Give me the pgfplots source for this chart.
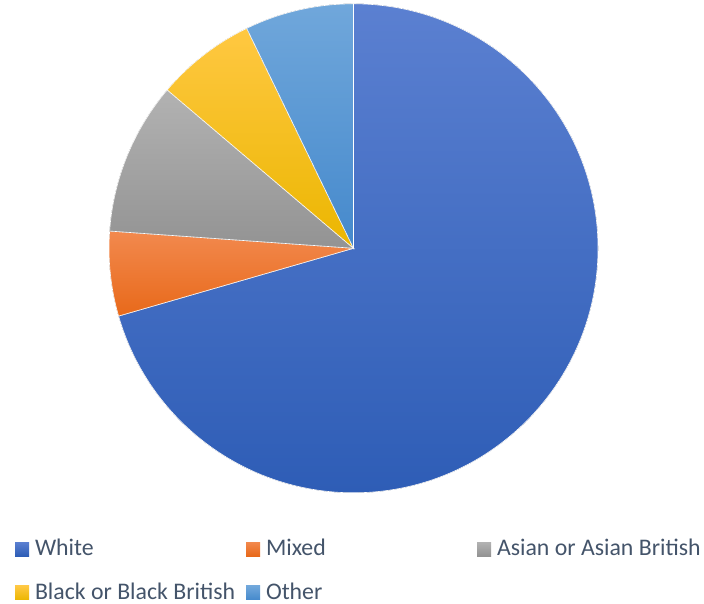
\documentclass[border=0pt]{standalone}
\usepackage{pgfplots}
\usepackage{pgfplotstable}
\pgfplotsset{compat=1.18}
\usepackage{fontspec}
\setmainfont{Carlito}
\definecolor{legtext}{HTML}{44546A}
\definecolor{cWt}{HTML}{5B80D1}\definecolor{cWb}{HTML}{2E5DB6}
\definecolor{cMt}{HTML}{F2894E}\definecolor{cMb}{HTML}{E8691A}
\definecolor{cAt}{HTML}{B2B2B2}\definecolor{cAb}{HTML}{939393}
\definecolor{cBt}{HTML}{FFC842}\definecolor{cBb}{HTML}{EBB600}
\definecolor{cOt}{HTML}{70A7DB}\definecolor{cOb}{HTML}{4589CC}

\pgfplotstableread{
label value
White 70.6
Mixed 5.6
Asian 10.1
Black 6.6
Other 7.2
}\piedata

\pgfplotstablegetelem{0}{value}\of\piedata\let\vA\pgfplotsretval
\pgfplotstablegetelem{1}{value}\of\piedata\let\vB\pgfplotsretval
\pgfplotstablegetelem{2}{value}\of\piedata\let\vC\pgfplotsretval
\pgfplotstablegetelem{3}{value}\of\piedata\let\vD\pgfplotsretval
\pgfplotstablegetelem{4}{value}\of\piedata\let\vE\pgfplotsretval
\pgfmathsetmacro\total{\vA+\vB+\vC+\vD+\vE}
\pgfmathsetmacro\aZ{90}
\pgfmathsetmacro\aA{\aZ-360*(\vA/\total)}
\pgfmathsetmacro\aB{\aA-360*(\vB/\total)}
\pgfmathsetmacro\aC{\aB-360*(\vC/\total)}
\pgfmathsetmacro\aD{\aC-360*(\vD/\total)}
\pgfmathsetmacro\aE{\aD-360*(\vE/\total)}
\def\R{122.25pt}
\newcommand\lt[1]{\makebox[105pt][l]{#1}}

\begin{document}
\begin{tikzpicture}
\begin{axis}[
  scale only axis, width=352pt, height=301.5pt,
  xmin=0, xmax=704, ymin=0, ymax=603,
  hide axis, clip=false,
  legend columns=3,
  legend image code/.code={\fill[#1, draw=none] (0pt,-3.5pt) rectangle (7pt,3.5pt);},
  legend style={at={(axis cs:15,603-537)}, anchor=north west, draw=none, fill=none,
    inner sep=0pt, outer sep=0pt,
    font=\fontsize{11.9pt}{14pt}\selectfont, text=legtext,
    nodes={inner sep=0pt, text height=9pt, text depth=3pt, anchor=west},
    /tikz/every odd column/.append style={column sep=3pt},
    /tikz/every even column/.append style={column sep=0.5pt},
    row sep=10pt},
]
\fill[top color=cWt, bottom color=cWb, draw=white, line width=0.3pt] (axis cs:353.5,354.7) -- ++(\aZ:\R) arc[start angle=\aZ, end angle=\aA, radius=\R] -- cycle;
\fill[top color=cMt, bottom color=cMb, draw=white, line width=0.3pt] (axis cs:353.5,354.7) -- ++(\aA:\R) arc[start angle=\aA, end angle=\aB, radius=\R] -- cycle;
\fill[top color=cAt, bottom color=cAb, draw=white, line width=0.3pt] (axis cs:353.5,354.7) -- ++(\aB:\R) arc[start angle=\aB, end angle=\aC, radius=\R] -- cycle;
\fill[top color=cBt, bottom color=cBb, draw=white, line width=0.3pt] (axis cs:353.5,354.7) -- ++(\aC:\R) arc[start angle=\aC, end angle=\aD, radius=\R] -- cycle;
\fill[top color=cOt, bottom color=cOb, draw=white, line width=0.3pt] (axis cs:353.5,354.7) -- ++(\aD:\R) arc[start angle=\aD, end angle=\aE, radius=\R] -- cycle;
\addlegendimage{top color=cWt, bottom color=cWb}\addlegendentry{\lt{White}}
\addlegendimage{top color=cMt, bottom color=cMb}\addlegendentry{\lt{Mixed}}
\addlegendimage{top color=cAt, bottom color=cAb}\addlegendentry{\lt{Asian or Asian British}}
\addlegendimage{top color=cBt, bottom color=cBb}\addlegendentry{\lt{Black or Black British}}
\addlegendimage{top color=cOt, bottom color=cOb}\addlegendentry{\lt{Other}}
\end{axis}
\pgfresetboundingbox
\path[use as bounding box] (current axis.south west) rectangle (current axis.north east);
\end{tikzpicture}
\end{document}
